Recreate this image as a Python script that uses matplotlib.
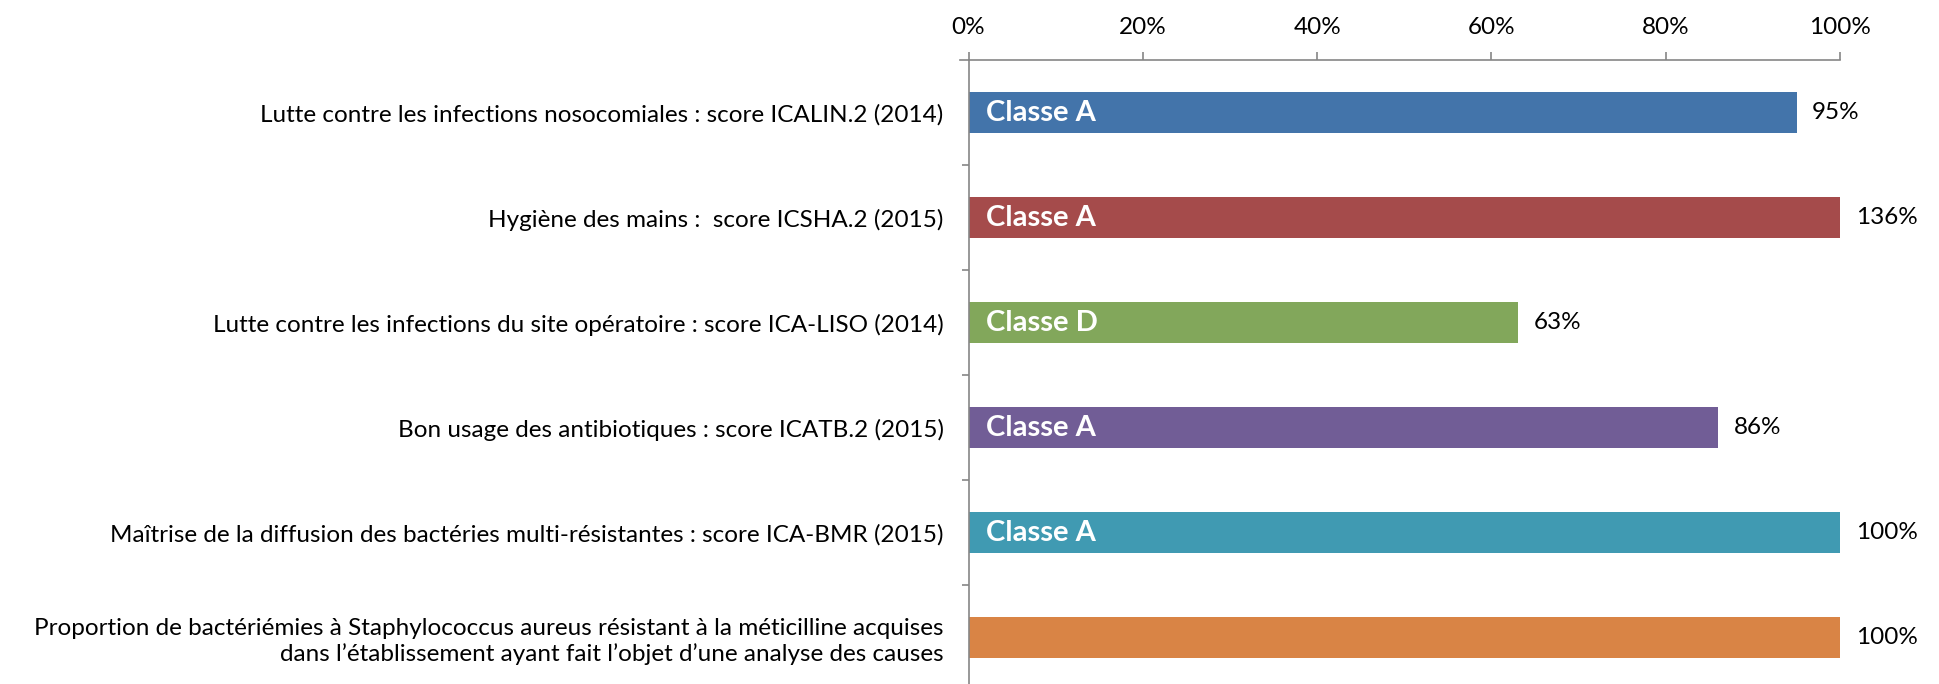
import numpy as np
import matplotlib as mpl
import matplotlib.pyplot as plt

indicators = [
	"Lutte contre les infections nosocomiales : score ICALIN.2 (2014)",
	"Hygiène des mains :  score ICSHA.2 (2015)",
	"Lutte contre les infections du site opératoire : score ICA-LISO (2014)",
	"Bon usage des antibiotiques : score ICATB.2 (2015)",
	"Maîtrise de la diffusion des bactéries multi-résistantes : score ICA-BMR (2015)",
	"Proportion de bactériémies à Staphylococcus aureus résistant à la méticilline acquises\ndans l\u2019établissement ayant fait l\u2019objet d\u2019une analyse des causes",
]
scores = [95, 136, 63, 86, 100, 100]
classes = ["Classe A", "Classe A", "Classe D", "Classe A", "Classe A", ""]
colors = ['#4374AA', '#A54B4B', '#82A75B', '#715D96', '#409AB2', '#D98445']
xticks = [0, 20, 40, 60, 80, 100]

mpl.rcParams['font.family'] = ['Lato', 'DejaVu Sans']
fig = plt.figure(figsize=(19.39, 6.84), dpi=100)
ax = fig.add_axes([0.4995, 0.0, 0.4495, 0.912])

pos = np.arange(len(scores))
ax.barh(pos, scores, height=0.39, color=colors, edgecolor='none')
ax.set_xlim(0, 100)
ax.set_ylim(5.44, -0.5)

for p, v, c in zip(pos, scores, classes):
	ax.text(min(v, 100) + 1.8, p, "%d%%" % v, va='center', ha='left', fontsize=17.5, color='black', clip_on=False)
	if c:
		ax.text(2.0, p, c, va='center', ha='left', fontsize=21, fontweight='bold', color='white')

ax.xaxis.tick_top()
ax.set_xticks(xticks)
ax.set_xticklabels(["%d%%" % t for t in xticks], fontsize=17.5)
ax.tick_params(axis='x', direction='out', length=6, width=1.2, color='#868686', pad=10)
# axis line pokes a little left of the y axis, like in excel
ax.plot([-1.0, 0], [1, 1], transform=ax.get_xaxis_transform(), color='#868686', lw=1.2, clip_on=False)

ax.set_yticks(pos)
ax.set_yticklabels(indicators, fontsize=17.5, ha='right', multialignment='right')
ax.tick_params(axis='y', length=0, pad=18)
ax.set_yticks(np.arange(len(scores) - 1) + 0.5, minor=True)
ax.tick_params(axis='y', which='minor', direction='out', length=5, width=1.2, color='#868686')

for s in ['right', 'bottom']:
	ax.spines[s].set_visible(False)
for s in ['top', 'left']:
	ax.spines[s].set_color('#868686')
	ax.spines[s].set_linewidth(1.2)

fig.savefig("out.png", dpi=100)
